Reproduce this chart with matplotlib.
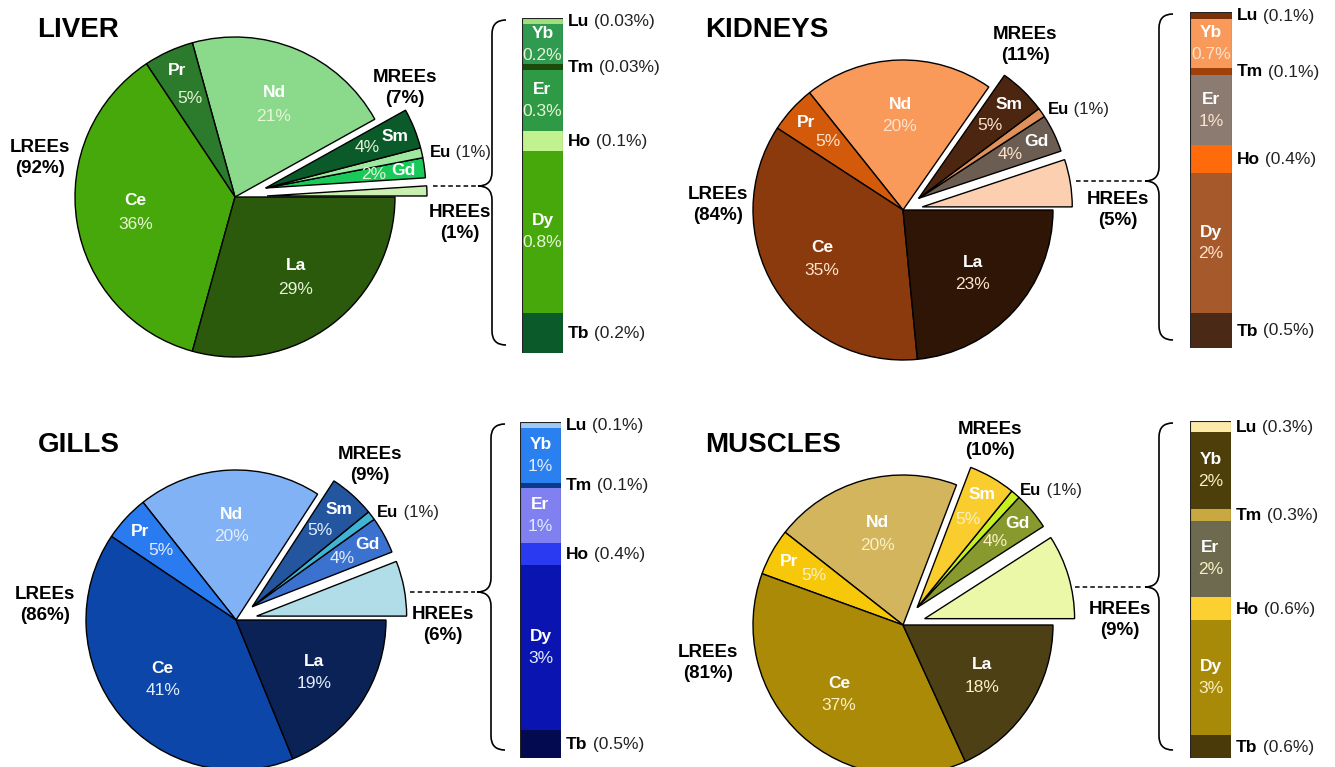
import numpy as np
import matplotlib.pyplot as plt
from matplotlib.path import Path
from matplotlib.patches import PathPatch

plt.rcParams['font.family'] = ['Liberation Sans', 'DejaVu Sans']

W, H = 1335, 767

# pie slices, counterclockwise from 3 o'clock
pie_names = ['HREEs', 'Gd', 'Eu', 'Sm', 'Nd', 'Pr', 'Ce', 'La']
liver_pie = [1, 2, 1, 4, 21, 5, 36, 29]
kidneys_pie = [5, 4, 1, 5, 20, 5, 35, 23]
gills_pie = [6, 4, 1, 5, 20, 5, 41, 19]
muscles_pie = [9, 4, 1, 5, 20, 5, 37, 18]

# group totals: LREEs, MREEs, HREEs
liver_groups = [92, 7, 1]
kidneys_groups = [84, 11, 5]
gills_groups = [86, 9, 6]
muscles_groups = [81, 10, 9]

# HREE breakdown, bottom to top
bar_names = ['Tb', 'Dy', 'Ho', 'Er', 'Tm', 'Yb', 'Lu']
liver_bar = [0.2, 0.8, 0.1, 0.3, 0.03, 0.2, 0.03]
kidneys_bar = [0.5, 2, 0.4, 1, 0.1, 0.7, 0.1]
gills_bar = [0.5, 3, 0.4, 1, 0.1, 1, 0.1]
muscles_bar = [0.6, 3, 0.6, 2, 0.3, 2, 0.3]

titles = ['LIVER', 'KIDNEYS', 'GILLS', 'MUSCLES']

# colours (pie order / bar order)
pie_colors = [
    ['#c9f0b0', '#19c95a', '#9fe89f', '#0b5a2a', '#8bd98b', '#2c7a2c', '#47a80c', '#2b5a0c'],
    ['#fbcfb0', '#6b5d52', '#e0905a', '#4d2611', '#f9995a', '#d35a0a', '#8a3a0c', '#2e1505'],
    ['#b0dde8', '#3b72d0', '#40b4d4', '#2456a0', '#80b2f5', '#2a7af0', '#0b46a8', '#0b2257'],
    ['#eaf8a8', '#889a2e', '#c8f020', '#f9cd2e', '#d2b55c', '#f7c80a', '#ab8a08', '#4d4015'],
]
bar_colors = [
    ['#0b5a2a', '#47a80c', '#c2f290', '#2f9a45', '#1c4a0a', '#2f9a50', '#9fdf80'],
    ['#4a2a16', '#a65a2c', '#ff6a0a', '#8c7b70', '#a0400a', '#f99a5a', '#7a3008'],
    ['#040a50', '#0a14b0', '#2a3af0', '#8080f0', '#0a3a8a', '#2a80ee', '#a0c8f5'],
    ['#4a3a0a', '#a88a08', '#fbd030', '#6e6a50', '#c8a840', '#4d3e0a', '#fbeaa8'],
]
pct_colors = ['#e6f5d6', '#fde2cc', '#e2edff', '#fbf0c4']

# layout in pixels (x right, y down)
layouts = [
    dict(title=(37, 30), c=(235, 197), r=160, ex=0.2, lree=(40, 158), mree=(405, 88),
         hree=(460, 223), tip=(478, 186), brace_x=506, bar=(522, 18, 563, 353)),
    dict(title=(705, 30), c=(903, 210), r=150, ex=0.13, lree=(718, 205), mree=(1025, 45),
         hree=(1118, 210), tip=(1145, 181), brace_x=1173, bar=(1190, 12, 1232, 348)),
    dict(title=(38, 445), c=(236, 620), r=150, ex=0.14, lree=(45, 605), mree=(370, 465),
         hree=(443, 625), tip=(477, 592), brace_x=505, bar=(520, 422, 561, 758)),
    dict(title=(705, 445), c=(903, 625), r=150, ex=0.15, lree=(708, 663), mree=(990, 440),
         hree=(1120, 620), tip=(1145, 587), brace_x=1173, bar=(1190, 421, 1231, 758)),
]

fig = plt.figure(figsize=(W / 100, H / 100), dpi=100)
ov = fig.add_axes([0, 0, 1, 1])
ov.set_xlim(0, W)
ov.set_ylim(H, 0)
ov.axis('off')


def px_axes(x0, y0, w, h):
    return fig.add_axes([x0 / W, 1 - (y0 + h) / H, w / W, h / H])


def two_part(ax, bold, normal, size, **kw):
    t = ax.annotate(bold, fontsize=size, fontweight='bold', va='baseline', ha='left', **kw)
    ax.annotate(normal, xy=(1, 0), xycoords=t, fontsize=size, va='bottom', ha='left',
                color='#222222')
    return t


def brace(ax, xt, xe, y0, y1, ym, d=14):
    xm = (xt + xe) / 2
    verts = [(xe, y0), (xm, y0), (xm, y0 + d), (xm, ym - d), (xm, ym), (xt, ym),
             (xm, ym), (xm, ym + d), (xm, y1 - d), (xm, y1), (xe, y1)]
    codes = [Path.MOVETO, Path.CURVE3, Path.CURVE3, Path.LINETO, Path.CURVE3, Path.CURVE3,
             Path.CURVE3, Path.CURVE3, Path.LINETO, Path.CURVE3, Path.CURVE3]
    ax.add_patch(PathPatch(Path(verts, codes), fc='none', ec='black', lw=1.2))


pies = [liver_pie, kidneys_pie, gills_pie, muscles_pie]
groups = [liver_groups, kidneys_groups, gills_groups, muscles_groups]
bars = [liver_bar, kidneys_bar, gills_bar, muscles_bar]

for k in range(4):
    L = layouts[k]
    cx, cy = L['c']
    r = L['r']
    K = 1.4
    pct_c = pct_colors[k]

    ov.text(L['title'][0], L['title'][1], titles[k], fontsize=20, fontweight='bold',
            ha='left', va='center')

    # pie
    pax = px_axes(cx - K * r, cy - K * r, 2 * K * r, 2 * K * r)
    wedges, _ = pax.pie(pies[k], colors=pie_colors[k], startangle=0, counterclock=True,
                        radius=1, wedgeprops=dict(edgecolor='black', linewidth=1))
    pax.set_xlim(-K, K)
    pax.set_ylim(-K, K)
    pax.axis('off')

    # explode MREE group together and HREE
    gm = np.deg2rad((wedges[1].theta1 + wedges[3].theta2) / 2)
    for i in (1, 2, 3):
        wedges[i].set_center((L['ex'] * np.cos(gm), L['ex'] * np.sin(gm)))
    hm = np.deg2rad((wedges[0].theta1 + wedges[0].theta2) / 2)
    wedges[0].set_center((L['ex'] * np.cos(hm), L['ex'] * np.sin(hm)))

    vals = pies[k]
    for i, w in enumerate(wedges):
        if i == 0:
            continue
        a = np.deg2rad((w.theta1 + w.theta2) / 2)
        ox, oy = w.center
        name, pct = pie_names[i], f'{vals[i]}%'
        if name in ('La', 'Ce', 'Nd'):
            x, y = ox + 0.63 * np.cos(a), oy + 0.63 * np.sin(a)
            pax.text(x, y + 0.075, name, color='white', fontsize=12.5, fontweight='bold',
                     ha='center', va='center')
            pax.text(x, y - 0.075, pct, color=pct_c, fontsize=12.5, ha='center', va='center')
        elif name == 'Eu':
            two_part(pax, 'Eu', f' ({vals[i]}%)', 12,
                     xy=(ox + 1.05 * np.cos(a), oy + 1.05 * np.sin(a) - 0.04))
        else:
            pax.text(ox + 0.87 * np.cos(a), oy + 0.87 * np.sin(a), name, color='white',
                     fontsize=12.5, fontweight='bold', ha='center', va='center')
            pax.text(ox + 0.68 * np.cos(a), oy + 0.68 * np.sin(a), pct, color=pct_c,
                     fontsize=12.5, ha='center', va='center')

    g = groups[k]
    for lab, pos, v in (('LREEs', L['lree'], g[0]), ('MREEs', L['mree'], g[1]),
                        ('HREEs', L['hree'], g[2])):
        ov.text(pos[0], pos[1], f'{lab}\n({v}%)', fontsize=13.5, fontweight='bold',
                ha='center', va='center', linespacing=1.25)

    # dotted connector and brace
    tx, ty = L['tip']
    w0 = wedges[0]
    x_start = cx + r * (w0.center[0] + np.cos(hm)) + 6
    ov.plot([x_start, tx - 2], [ty, ty], color='black', lw=1.1, ls=(0, (3, 2)))
    bx0, by0, bx1, by1 = L['bar']
    brace(ov, tx, L['brace_x'], by0 + 2, by1 - 8, ty)

    # stacked HREE bar
    bax = px_axes(bx0, by0, bx1 - bx0, by1 - by0)
    bv = bars[k]
    total = sum(bv)
    bottoms = np.concatenate([[0], np.cumsum(bv)[:-1]])
    bax.bar(0.5, bv, width=1, bottom=bottoms, color=bar_colors[k], edgecolor='none')
    bax.bar(0.5, total, width=1, fill=False, edgecolor='#222222', lw=0.8)
    bax.set_xlim(0, 1)
    bax.set_ylim(0, total)
    bax.axis('off')
    for name, v, b in zip(bar_names, bv, bottoms):
        mid = b + v / 2
        if name in ('Dy', 'Er', 'Yb'):
            bax.annotate(name, xy=(0.5, mid), xytext=(0, 11), textcoords='offset pixels',
                         color='white', fontsize=12.5, fontweight='bold', ha='center',
                         va='center')
            bax.annotate(f'{v:g}%', xy=(0.5, mid), xytext=(0, -11), textcoords='offset pixels',
                         color=pct_c, fontsize=12.5, ha='center', va='center')
        else:
            t = bax.annotate(name, xy=(1, mid), xycoords=('axes fraction', 'data'),
                             xytext=(5, -5), textcoords='offset pixels', fontsize=12.5,
                             fontweight='bold', ha='left', va='baseline')
            bax.annotate(f' ({v:g}%)', xy=(1, 0), xycoords=t, fontsize=12.5,
                         ha='left', va='bottom', color='#222222')

fig.savefig('out.png', dpi=100)
